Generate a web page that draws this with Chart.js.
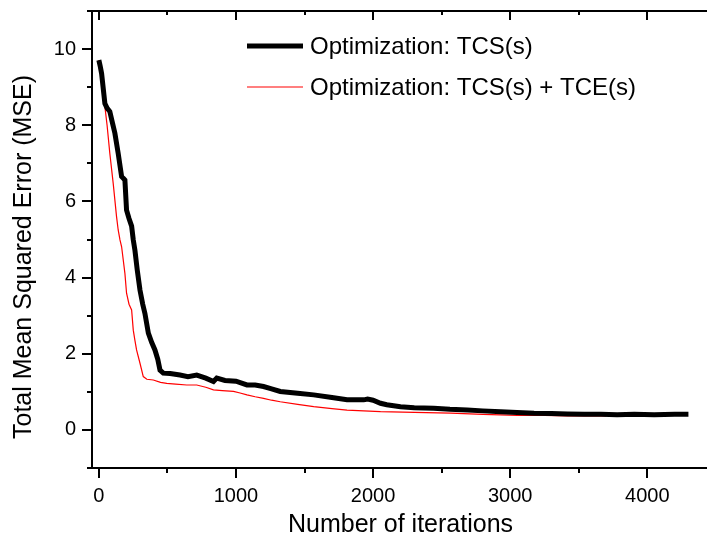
<!DOCTYPE html>
<html>
<head>
<meta charset="utf-8">
<script src="https://cdn.jsdelivr.net/npm/chart.js@4/dist/chart.umd.min.js"></script>
<style>
  html, body { margin: 0; padding: 0; background: #fff; overflow: hidden; }
  #wrap { width: 712px; height: 544px; position: relative; }
</style>
</head>
<body>
<div id="wrap"><canvas id="chart"></canvas></div>
<script>
// Werte (Iteration -> MSE)
const tcsIter = [0, 10, 20, 44, 60, 80, 100, 117, 141, 166, 180, 190, 202, 220, 239, 251, 263, 280, 300, 320, 336, 361, 385, 409, 430, 446, 470, 520, 592, 650, 714, 780, 836, 860, 920, 1000, 1080, 1140, 1201, 1260, 1323, 1450, 1567, 1700, 1810, 1932, 1960, 2000, 2054, 2100, 2200, 2300, 2442, 2560, 2687, 2800, 2931, 3050, 3174, 3300, 3418, 3540, 3662, 3780, 3905, 4050, 4200, 4300];
const tcsMse = [9.71, 9.55, 9.36, 8.57, 8.45, 8.36, 8.05, 7.79, 7.26, 6.65, 6.6, 6.56, 5.77, 5.55, 5.35, 4.99, 4.72, 4.2, 3.67, 3.3, 3.06, 2.54, 2.3, 2.1, 1.85, 1.57, 1.49, 1.48, 1.44, 1.4, 1.44, 1.36, 1.27, 1.36, 1.3, 1.28, 1.18, 1.18, 1.14, 1.08, 1.01, 0.96, 0.92, 0.85, 0.79, 0.79, 0.81, 0.78, 0.7, 0.66, 0.61, 0.58, 0.57, 0.54, 0.52, 0.5, 0.48, 0.46, 0.44, 0.43, 0.42, 0.41, 0.41, 0.4, 0.41, 0.4, 0.41, 0.41];

const tceIter = [0, 20, 44, 60, 80, 105, 129, 141, 154, 166, 190, 202, 220, 239, 251, 263, 275, 300, 324, 350, 397, 450, 495, 560, 641, 714, 780, 836, 900, 982, 1030, 1080, 1140, 1201, 1260, 1323, 1450, 1567, 1700, 1810, 2054, 2300, 2566, 2800, 3053, 3250, 3418, 3550, 3700];
const tceMse = [9.71, 9.3, 8.49, 8.0, 7.26, 6.46, 5.6, 5.25, 4.99, 4.81, 4.11, 3.59, 3.3, 3.15, 2.62, 2.35, 2.1, 1.75, 1.4, 1.33, 1.31, 1.25, 1.22, 1.2, 1.18, 1.18, 1.12, 1.05, 1.03, 1.01, 0.97, 0.92, 0.87, 0.83, 0.78, 0.74, 0.67, 0.61, 0.56, 0.52, 0.48, 0.46, 0.44, 0.41, 0.38, 0.38, 0.37, 0.37, 0.37];

const seriesLabels = ['Optimization: TCS(s)', 'Optimization: TCS(s) + TCE(s)'];
const xMajor = [0, 1000, 2000, 3000, 4000];
const xMinor = [500, 1500, 2500, 3500];
const yMajor = [0, 2, 4, 6, 8, 10];
const yMinor = [-1, 1, 3, 5, 7, 9, 11];
const xTitle = 'Number of iterations';
const yTitle = 'Total Mean Squared Error (MSE)';

const FONT = "'Liberation Sans', Arial, sans-serif";
const pts = (xs, ys) => xs.map((x, i) => ({ x, y: ys[i] }));

// Rahmen, Haupt-/Nebenstriche, Achsentitel und Legende
const frame = {
  id: 'frame',
  afterDraw(chart) {
    const { ctx, chartArea: a, scales: { x, y } } = chart;
    ctx.save();
    ctx.strokeStyle = '#000';
    ctx.lineWidth = 2;
    ctx.strokeRect(a.left, a.top, a.right - a.left, a.bottom - a.top);
    ctx.beginPath();
    const xt = (v, out, inn) => {
      const px = Math.round(x.getPixelForValue(v));
      ctx.moveTo(px, a.bottom); ctx.lineTo(px, a.bottom + out);
      ctx.moveTo(px, a.top); ctx.lineTo(px, a.top + inn);
    };
    const yt = (v, len) => {
      const py = Math.round(y.getPixelForValue(v));
      ctx.moveTo(a.left, py); ctx.lineTo(a.left - len, py);
      ctx.moveTo(a.right, py); ctx.lineTo(a.right + len, py);
    };
    xMajor.forEach((v) => xt(v, 10, 9));
    xMinor.forEach((v) => xt(v, 5, 4));
    yMajor.forEach((v) => yt(v, 10));
    yMinor.forEach((v) => yt(v, 5));
    ctx.stroke();

    ctx.fillStyle = '#000';
    ctx.font = `25px ${FONT}`;
    ctx.textAlign = 'center';
    ctx.textBaseline = 'middle';
    ctx.fillText(xTitle, (a.left + a.right) / 2, 525);
    ctx.save();
    ctx.translate(24, 257);
    ctx.rotate(-Math.PI / 2);
    ctx.fillText(yTitle, 0, 0);
    ctx.restore();

    // Legende
    const ds = chart.data.datasets;
    const rows = [46, 87];
    ctx.font = `24px ${FONT}`;
    ctx.textAlign = 'left';
    rows.forEach((ry, i) => {
      ctx.beginPath();
      ctx.strokeStyle = ds[i].borderColor;
      ctx.lineWidth = ds[i].borderWidth;
      ctx.moveTo(247, ry); ctx.lineTo(303, ry);
      ctx.stroke();
      ctx.fillStyle = '#000';
      ctx.fillText(ds[i].label, 310, ry + 1);
    });
    ctx.restore();
  }
};

new Chart(document.getElementById('chart'), {
  type: 'line',
  data: {
    datasets: [
      { label: seriesLabels[0], data: pts(tcsIter, tcsMse), borderColor: '#000', borderWidth: 5, pointRadius: 0, tension: 0, order: 1 },
      { label: seriesLabels[1], data: pts(tceIter, tceMse), borderColor: '#ff0000', borderWidth: 1.2, pointRadius: 0, tension: 0, order: 2 }
    ]
  },
  options: {
    responsive: true, maintainAspectRatio: false,
    animation: false,
    layout: { padding: { top: 11, right: 3, left: 0, bottom: 0 } },
    plugins: { legend: { display: false }, tooltip: { enabled: false } },
    scales: {
      x: {
        type: 'linear', min: -50, max: 4450,
        grid: { display: false, drawTicks: false },
        border: { display: false },
        afterBuildTicks: (s) => { s.ticks = xMajor.map((v) => ({ value: v })); },
        afterFit: (s) => { s.height = 76; s.paddingLeft = 0; s.paddingRight = 0; },
        ticks: { color: '#000', font: { family: FONT, size: 20 }, padding: 16, maxRotation: 0, callback: (v) => String(v) }
      },
      y: {
        type: 'linear', min: -1, max: 11,
        grid: { display: false, drawTicks: false },
        border: { display: false },
        afterBuildTicks: (s) => { s.ticks = yMajor.map((v) => ({ value: v })); },
        afterFit: (s) => { s.width = 92; s.paddingTop = 0; s.paddingBottom = 0; },
        ticks: { color: '#000', font: { family: FONT, size: 20 }, padding: 16, callback: (v) => String(v) }
      }
    }
  },
  plugins: [frame]
});
</script>
</body>
</html>
